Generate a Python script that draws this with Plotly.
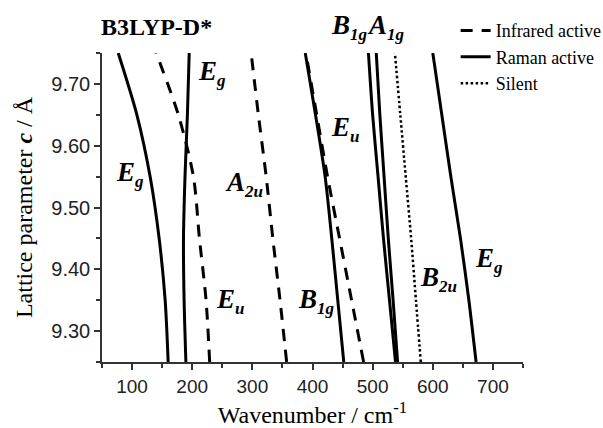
import plotly.graph_objects as go

# Lattice parameter c (Å) grid shared by all modes
c_values = [9.25, 9.35, 9.45, 9.55, 9.65, 9.75]

# Wavenumbers (cm-1) of each mode along the c grid
eg_low = [160, 155, 145, 130, 108, 77]
eg_mid = [189.5, 186.5, 185.5, 188, 192, 195]
eu_low = [229, 223, 212, 202, 177, 140]
a2u = [357, 346, 334, 323, 310, 298]
b1g_low = [452, 442, 432, 421, 405, 388]
eu_high = [485, 465, 445, 425, 407, 389]
b1g_high = [538, 528, 518, 509, 500, 493]
a1g = [541.5, 534, 526, 519, 512, 506]
b2u = [580, 572, 564, 555, 546, 537]
eg_high = [672, 660, 646, 630, 615, 600]

activity_names = ["Infrared active", "Raman active", "Silent"]

modes = [
    (eg_low, "Raman active"),
    (eg_mid, "Raman active"),
    (eu_low, "Infrared active"),
    (a2u, "Infrared active"),
    (b1g_low, "Raman active"),
    (eu_high, "Infrared active"),
    (b1g_high, "Raman active"),
    (a1g, "Raman active"),
    (b2u, "Silent"),
    (eg_high, "Raman active"),
]

styles = {
    "Infrared active": dict(color="black", width=3, dash="12px,9px"),
    "Raman active": dict(color="black", width=3, dash="solid"),
    "Silent": dict(color="black", width=2.5, dash="2.5px,2.5px"),
}

fig = go.Figure()
shown = set()
for values, kind in modes:
    fig.add_trace(go.Scatter(
        x=values, y=c_values, mode="lines",
        line=dict(shape="spline", smoothing=0.8, **styles[kind]),
        name=kind,
        showlegend=kind not in shown,
        legendrank=activity_names.index(kind) + 1,
        hoverinfo="skip",
    ))
    shown.add(kind)

serif = "Liberation Serif"
sans = "Liberation Sans"

# (main letter, subscript, x in cm-1, y in Å) for labels inside the plot
labels = [
    ("E", "g", 70, 9.555),
    ("E", "g", 207, 9.718),
    ("A", "2u", 252, 9.538),
    ("E", "u", 237, 9.349),
    ("E", "u", 427, 9.627),
    ("B", "1g", 373, 9.348),
    ("B", "2u", 575, 9.385),
    ("E", "g", 667, 9.415),
]
# labels above the plot area: (main, subscript, x in cm-1, y as paper fraction)
top_labels = [
    ("B", "1g", 427, 1.083),
    ("A", "1g", 487, 1.083),
]

def label_text(main, sub):
    return f"<b><i>{main}<sub><span style='font-size:17px'>{sub}</span></sub></i></b>"

annotations = []
for main, sub, lx, ly in labels:
    annotations.append(dict(
        text=label_text(main, sub), x=lx, y=ly, xref="x", yref="y",
        xanchor="left", yanchor="middle", showarrow=False,
        font=dict(family=serif, size=27, color="black"),
    ))
for main, sub, lx, ly in top_labels:
    annotations.append(dict(
        text=label_text(main, sub), x=lx, y=ly, xref="x", yref="paper",
        xanchor="left", yanchor="middle", showarrow=False,
        font=dict(family=serif, size=27, color="black"),
    ))
annotations.append(dict(
    text="<b>B3LYP-D*</b>", x=-0.008, y=1.083, xref="paper", yref="paper",
    xanchor="left", yanchor="middle", showarrow=False,
    font=dict(family=serif, size=24, color="black"),
))

fig.update_layout(
    width=603, height=428,
    margin=dict(l=102, r=80, t=53, b=66, autoexpand=False),
    paper_bgcolor="white", plot_bgcolor="white",
    showlegend=True,
    legend=dict(
        x=0.84, y=1.132, xanchor="left", yanchor="top",
        bgcolor="rgba(0,0,0,0)", borderwidth=0,
        font=dict(family=serif, size=18, color="black"),
        traceorder="normal",
    ),
    annotations=annotations,
    xaxis=dict(
        range=[50, 750], tick0=0, dtick=100,
        showgrid=False, zeroline=False,
        showline=True, linecolor="#333", linewidth=1.5,
        ticks="outside", ticklen=6, tickwidth=1.5, tickcolor="#333",
        minor=dict(ticks="outside", dtick=50, ticklen=4, tickwidth=1.5, tickcolor="#333", showgrid=False),
        tickfont=dict(family=sans, size=19, color="#222"),
        title=dict(text="Wavenumber / cm<sup>-1</sup>", font=dict(family=serif, size=24, color="black"), standoff=11),
    ),
    yaxis=dict(
        range=[9.25, 9.75], tick0=9.0, dtick=0.1, tickformat=".2f",
        showgrid=False, zeroline=False,
        showline=True, linecolor="#333", linewidth=1.5,
        ticks="outside", ticklen=6, tickwidth=1.5, tickcolor="#333",
        minor=dict(ticks="outside", dtick=0.05, ticklen=4, tickwidth=1.5, tickcolor="#333", showgrid=False),
        tickfont=dict(family=sans, size=20, color="#222"),
        title=dict(text="Lattice parameter <b><i>c</i></b> / Å", font=dict(family=serif, size=24, color="black"), standoff=12),
    ),
)

fig.write_html("out.html")
